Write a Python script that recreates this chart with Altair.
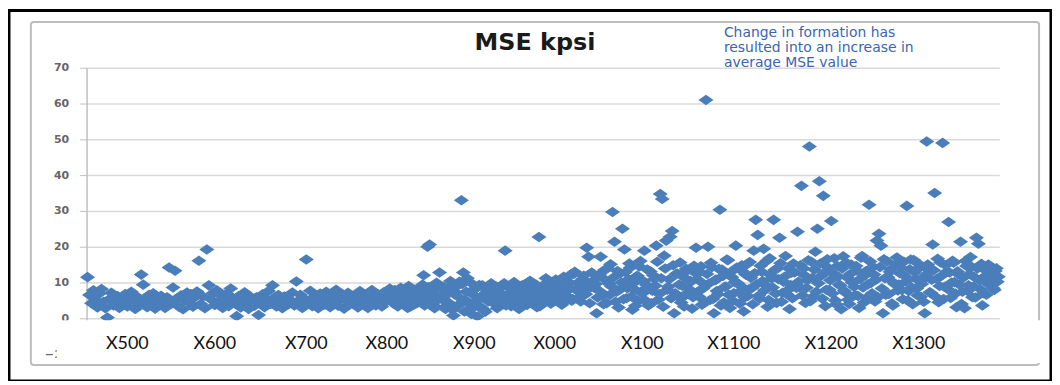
import altair as alt
import pandas as pd

# MSE values (kpsi), read left to right, 51 samples per segment
seg_0 = [11.5, 6.5, 4.2, 7.8, 5.1, 3.0, 6.9, 8.2, 4.6, 2.8, 0.2,
         5.4, 7.1, 3.6, 4.8, 6.2, 2.9, 5.7, 4.1, 6.8, 3.3, 5.0, 7.4, 4.4, 2.6, 6.0, 3.9,
         12.2, 9.4, 5.2, 3.1, 6.6, 4.3, 7.0, 2.7, 5.5, 3.8, 6.3, 4.7, 2.9, 5.9,
         14.2, 4.0, 8.6, 13.3, 5.6, 3.2, 6.4, 2.5, 4.9, 7.2]
seg_1 = [4.5, 6.8, 3.2, 5.9, 7.5, 16.1, 4.0, 6.1, 2.8, 19.2, 9.2,
         5.3, 7.0, 3.7, 7.8, 4.6, 6.4, 2.9, 5.0, 6.9, 3.4, 8.3, 5.6, 4.2, 0.6,
         6.2, 3.0, 5.4, 7.3, 4.1, 2.6, 6.0, 4.8, 3.5, 5.9, 0.9,
         4.4, 6.7, 3.1, 5.2, 7.6, 4.0, 9.2, 5.8, 3.3, 6.5, 4.7, 2.8, 6.1, 5.0, 3.9]
seg_2 = [5.1, 7.2, 3.6, 10.3, 4.9, 6.6, 2.9, 5.5, 16.4,
         4.2, 7.7, 3.4, 6.0, 5.0, 2.8, 6.9, 4.5, 3.8, 7.4, 5.7, 3.1, 6.3, 4.6, 8.0,
         3.5, 5.3, 6.8, 2.7, 4.9, 7.1, 3.9, 5.8, 4.3, 6.5, 3.0, 7.6, 5.2, 4.0, 6.2,
         2.9, 5.6, 7.9, 4.4, 3.6, 6.7, 5.0, 3.3, 7.3, 4.8, 6.0, 8.3]
seg_3 = [6.0, 4.1, 7.4, 3.3, 5.6, 8.1, 4.7, 6.5, 2.9, 5.2, 7.0, 3.8, 6.2, 4.4, 8.4, 5.5,
         12.0, 6.9, 20.0, 20.6, 4.3, 7.8, 3.2, 9.6, 12.8, 5.4, 8.8, 2.6, 6.7, 4.0, 9.0,
         0.8, 7.3, 3.5, 10.2, 33.0, 12.8, 5.1, 11.2, 2.2, 1.2, 8.0, 4.6, 0.5,
         9.3, 3.0, 6.4, 1.8, 7.6, 4.9, 9.8]
seg_4 = [4.3, 7.5, 2.8, 6.1, 8.7, 3.9, 18.9,
         5.8, 9.1, 3.4, 7.0, 4.8, 8.2, 2.6, 6.4, 5.2, 9.5, 3.7, 7.7, 4.5, 8.9, 6.0, 3.1,
         22.7, 7.3, 4.9, 9.6, 5.6, 8.1, 4.1, 10.2, 6.6, 5.0, 9.0, 7.1, 4.4, 10.6, 6.2, 8.4,
         12.2, 5.4, 13.0, 7.8, 9.9, 4.7, 11.0, 6.8, 19.7, 17.2, 8.6, 10.4]
seg_5 = [8.5, 1.4, 11.8, 17.2, 6.3, 13.5, 4.2, 9.7, 15.1, 29.7, 21.4,
         7.4, 3.0, 12.6, 25.0, 19.2, 5.6, 10.9, 14.2, 2.4, 8.1, 11.7, 4.8, 16.0, 6.9,
         18.9, 9.3, 3.6, 13.1, 7.7, 11.0, 20.3, 5.2, 34.7, 33.3, 17.5, 21.7, 8.8,
         22.8, 24.4, 1.4, 12.4, 6.0, 15.6, 9.1, 3.3, 13.8, 7.2, 10.5, 2.7, 14.7]
seg_6 = [19.7, 7.5, 12.9, 3.8, 9.6, 61.0, 20.0, 5.1, 14.3, 1.4, 10.8, 6.7, 30.3,
         13.6, 4.4, 8.9, 16.2, 2.9, 11.5, 7.0, 20.3,
         9.8, 4.1, 14.8, 1.9, 12.2, 6.2, 15.7, 8.4, 18.9, 27.5, 23.3, 5.5, 13.0, 19.4,
         9.2, 3.2, 16.8, 11.1, 27.5, 6.9, 14.0, 22.5,
         4.6, 10.2, 17.4, 7.8, 2.6, 12.7, 15.3, 9.0]
seg_7 = [24.2, 8.7, 37.0, 13.9, 4.3, 10.6, 48.0, 15.8, 6.1, 18.6, 25.0, 38.3, 11.9, 34.2,
         3.4, 16.5, 8.0, 27.2,
         12.5, 5.0, 14.6, 9.4, 2.5, 17.3, 7.2, 11.4, 4.0, 15.0, 10.0, 6.5, 13.3, 2.9,
         16.9, 8.6, 12.0, 5.8, 31.7, 9.9, 14.4, 4.7, 21.7, 23.6, 20.3, 1.4,
         11.2, 15.9, 6.8, 13.7, 3.6, 9.5, 17.0]
seg_8 = [9.4, 14.1, 5.3, 11.8, 31.4, 7.6, 16.4, 3.9, 12.9, 8.3, 15.2, 6.0, 10.7, 1.4,
         49.4, 13.4, 7.1, 20.6, 35.0, 11.0, 4.5, 15.6, 49.0, 8.8, 13.0, 26.9,
         5.7, 16.1, 10.1, 3.1, 12.3, 21.4, 7.4, 2.8, 14.6, 9.2, 17.1, 5.9, 11.5,
         22.5, 20.8, 8.1, 3.6, 13.6, 6.6, 15.0, 10.4, 12.2, 7.9, 14.0, 11.6]

# interleaved samples (between the ones above) in the denser right half
band_3 = [5.5, 7.9, 3.8, 6.6, 8.5, 4.6, 7.2, 5.1, 9.0, 3.3, 6.9, 8.0, 4.2, 7.5, 5.8, 9.4,
          3.6, 6.3, 8.7, 4.9, 7.0, 2.8, 9.9, 5.3, 6.1, 8.2, 3.1, 7.7, 4.4, 10.4, 2.4, 6.7,
          8.9, 3.7, 5.6, 9.6, 1.9, 7.4, 4.1, 10.0, 2.9, 6.4, 8.4, 3.4, 5.9, 9.2, 2.3, 7.1,
          4.7, 8.0, 6.0]
band_4 = [6.2, 8.9, 4.0, 7.1, 5.5, 9.8, 3.6, 6.8, 8.3, 5.0, 10.1, 4.4, 7.6, 6.0, 9.2, 3.9,
          8.0, 5.7, 10.5, 4.8, 7.3, 9.4, 6.5, 3.4, 8.7, 5.3, 11.2, 7.0, 4.5, 9.7, 6.3, 10.8,
          5.1, 8.4, 3.8, 11.6, 7.4, 6.1, 9.9, 4.9, 12.4, 8.1, 5.6, 10.3, 7.9, 11.9, 6.7, 9.5,
          4.2, 12.8, 8.8]
band_5 = [9.6, 5.8, 12.3, 7.2, 3.9, 10.7, 14.0, 6.5, 8.9, 11.4, 4.6, 13.2, 7.9, 10.0, 5.3,
          12.9, 8.4, 15.3, 6.1, 9.8, 3.5, 11.9, 14.5, 7.5, 10.4, 5.0, 13.6, 8.7, 4.2, 12.0,
          9.1, 15.8, 6.8, 11.2, 3.2, 13.9, 8.0, 10.9, 5.6, 14.8, 7.0, 12.5, 9.4, 4.4, 11.6,
          6.4, 13.3, 8.2, 10.2, 5.9, 12.7]
band_6 = [11.0, 6.0, 14.5, 8.3, 4.5, 12.4, 9.7, 15.5, 5.4, 10.6, 7.6, 13.8, 3.6, 11.8, 8.8,
          16.4, 6.6, 12.9, 4.9, 10.1, 14.2, 7.3, 9.0, 13.1, 5.8, 15.0, 8.1, 11.3, 3.9, 12.6,
          9.5, 6.3, 14.7, 10.4, 7.8, 16.0, 5.1, 12.1, 8.6, 13.5, 4.3, 10.9, 15.4, 7.1, 11.6,
          6.8, 14.0, 9.3, 5.6, 12.8, 8.5]
band_7 = [10.2, 14.8, 6.4, 12.0, 8.5, 16.2, 4.8, 11.3, 13.6, 7.4, 9.8, 15.3, 5.5, 12.7, 8.0,
          14.1, 10.6, 6.9, 16.8, 3.9, 11.7, 9.1, 13.9, 7.7, 15.6, 5.2, 12.4, 10.0, 8.8, 14.6,
          6.2, 11.0, 17.4, 4.4, 13.2, 9.5, 15.9, 7.0, 12.2, 10.8, 5.9, 14.3, 8.3, 16.5, 6.6,
          11.5, 13.0, 4.1, 9.9, 15.1, 7.8]
band_8 = [12.6, 7.9, 15.8, 10.3, 5.0, 13.7, 8.6, 16.3, 11.1, 6.4, 14.2, 9.6, 4.6, 12.1, 15.0,
          7.3, 10.8, 13.4, 6.0, 16.6, 9.0, 11.9, 5.4, 14.8, 8.2, 12.8, 10.0, 15.5, 6.9, 13.1,
          9.4, 4.0, 11.4, 16.0, 7.6, 12.4, 14.4, 8.9, 5.8, 13.9, 10.6, 15.2, 7.0, 11.8, 9.7,
          14.1, 12.0, 8.4, 13.2, 10.2]

segments = [seg_0, seg_1, seg_2, seg_3, seg_4, seg_5, seg_6, seg_7, seg_8]
bands = {3: band_3, 4: band_4, 5: band_5, 6: band_6, 7: band_7, 8: band_8}
SEG_SPAN = 102  # sample-index span per segment

x_labels = ["X500", "X600", "X700", "X800", "X900", "X000", "X100", "X1100", "X1200", "X1300"]
x_label_pos = [41, 129, 221, 302, 390, 471, 559, 651, 749, 837]

y_ticks = [-10, 0, 10, 20, 30, 40, 50, 60, 70]

title_text = "MSE kpsi"
note_lines = ["Change in formation has", "resulted into an increase in", "average MSE value"]

rows = []
for k, seg in enumerate(segments):
    for j, v in enumerate(seg):
        rows.append({"idx": SEG_SPAN * k + 2 * j + 1, "mse": v})
for k, seg in bands.items():
    for j, v in enumerate(seg):
        rows.append({"idx": SEG_SPAN * k + 2 * j + 2, "mse": v})
df = pd.DataFrame(rows)
labels_df = pd.DataFrame({"label": x_labels, "pos": x_label_pos})

W, H = 918, 288
one = alt.Data(values=[{"a": 1}])
x_scale = alt.Scale(domain=[0, W], nice=False, zero=False)

diamond = "M-1,0L0,-0.7L1,0L0,0.7Z"

outer = alt.Chart(one).mark_rect(fillOpacity=0, stroke="#000000", strokeWidth=3).encode(
    x=alt.value(-78), x2=alt.value(970), y=alt.value(-57.5), y2=alt.value(315))
inner = alt.Chart(one).mark_rect(fillOpacity=0, stroke="#bdbdbd", strokeWidth=2, cornerRadius=3).encode(
    x=alt.value(-56), x2=alt.value(958), y=alt.value(-46), y2=alt.value(299))

points = alt.Chart(df).mark_point(
    shape=diamond, size=230, filled=True, fill="#4a7ebb", opacity=1, strokeWidth=0
).encode(
    x=alt.X("idx:Q", scale=x_scale, axis=None),
    y=alt.Y("mse:Q", scale=alt.Scale(domain=[-10, 70], nice=False),
            axis=alt.Axis(values=y_ticks, title=None, grid=True, gridColor="#d9d9d9", gridWidth=1.5,
                          domainColor="#bfbfbf", domainWidth=1.5, tickColor="#bfbfbf", tickSize=7,
                          labelFont="DejaVu Sans", labelFontSize=11, labelFontWeight="bold",
                          labelColor="#666666", labelPadding=11, labelOverlap=False)),
)

cover = alt.Chart(one).mark_rect(fill="#ffffff", stroke="#ffffff", strokeWidth=0).encode(
    x=alt.value(-30), x2=alt.value(967), y=alt.value(254), y2=alt.value(297))

xlab = alt.Chart(labels_df).mark_text(font="Lato", fontSize=18, color="#111111", baseline="middle", align="center").encode(
    x=alt.X("pos:Q", scale=x_scale, axis=None),
    y=alt.value(278),
    text="label:N")

title = alt.Chart(one).mark_text(text=title_text, font="DejaVu Sans", fontSize=24, fontWeight="bold",
                                 color="#1a1a1a", align="center", baseline="middle").encode(
    x=alt.value(451), y=alt.value(-25))

note = alt.Chart(one).mark_text(text=note_lines, font="DejaVu Sans", fontSize=14, lineHeight=15,
                                color="#3a65b0", align="left", baseline="middle").encode(
    x=alt.value(641), y=alt.value(-35))

chart = alt.layer(outer, inner, points, cover, xlab, title, note).properties(
    width=W, height=H,
    autosize=alt.AutoSizeParams(type="none"),
    padding={"left": 79, "top": 59, "right": 53, "bottom": 26},
    background="#ffffff",
).configure_view(stroke=None).configure_axisY(labelOverlap=False)

chart.save("out.html", embed_options={"renderer": "svg", "actions": False})
